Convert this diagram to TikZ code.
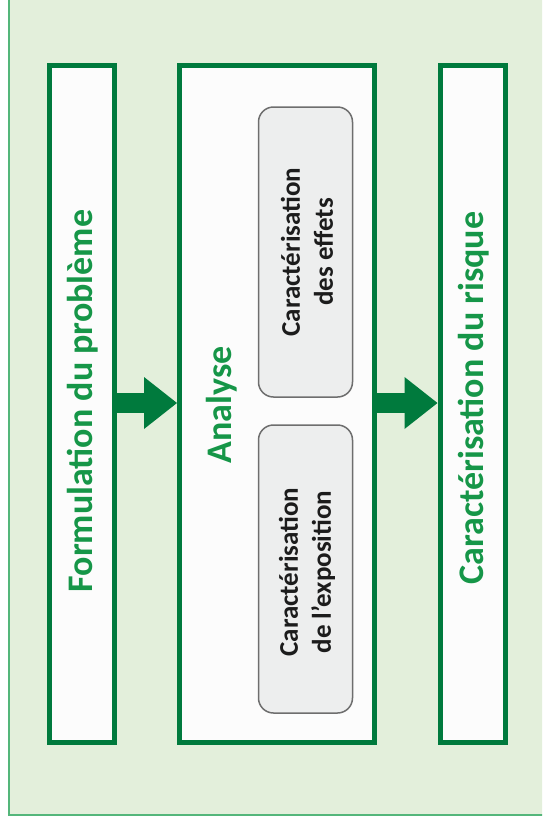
\documentclass[tikz,border=0pt]{standalone}
\usepackage{fontspec}
\setmainfont{Carlito}
\usetikzlibrary{arrows.meta}
\definecolor{panelbg}{RGB}{227,239,219}
\definecolor{panelline}{RGB}{84,182,122}
\definecolor{boxline}{RGB}{0,122,61}
\definecolor{titlegreen}{RGB}{22,150,72}
\definecolor{subfill}{RGB}{237,238,238}
\definecolor{subline}{RGB}{110,110,110}
\definecolor{subtext}{RGB}{28,28,28}
\tikzset{
  stagebox/.style={draw=boxline, line width=5pt, fill=white!99!black, inner sep=0pt,
    minimum width=65pt, minimum height=677pt},
  subbox/.style={draw=subline, line width=1.5pt, fill=subfill, rounded corners=15pt,
    inner sep=0pt, minimum width=94pt},
  stagetitle/.style={rotate=90, text=titlegreen, font=\bfseries\fontsize{36}{42}\selectfont, inner sep=0pt},
  subtitle/.style={rotate=90, text=subtext, align=center, font=\bfseries\fontsize{27}{33}\selectfont, inner sep=0pt},
  flow/.style={draw=boxline, line width=20pt,
    -{Triangle[length=33pt, width=52pt, line width=0pt]}, shorten <=-1pt}
}
\begin{document}
\begin{tikzpicture}[x=1pt, y=-1pt]
  \useasboundingbox (0,0) rectangle (542,831);
  % background panel, open at the top and right
  \begin{scope}
    \clip (0,0) rectangle (542,831);
    \fill[panelbg] (9,-10) rectangle (560,815);
    \draw[panelline, line width=1.6pt] (9,-10) -- (9,815) -- (560,815);
  \end{scope}

  % the three stages
  \node[stagebox] (form) at (82,404) {};
  \node[stagebox, minimum width=195pt] (ana) at (277,404) {};
  \node[stagebox] (risk) at (472.5,404) {};

  % sub-steps of the analysis
  \node[subbox, minimum height=290pt] (eff) at (305.5,252) {};
  \node[subbox, minimum height=288pt] (expo) at (305.5,569) {};

  % labels
  \node[stagetitle] (formtxt) at (83,401) {Formulation du problème};
  \node[stagetitle] (anatxt) at (222,405) {Analyse};
  \node[stagetitle] (risktxt) at (474,398) {Caractérisation du risque};
  \node[subtitle] (efftxt) at (307,252) {Caractérisation\\des effets};
  \node[subtitle] (expotxt) at (307,572) {Caractérisation\\de l’exposition};

  % flow between the stages
  \draw[flow] (form.east |- 0,403) -- (ana.west |- 0,403);
  \draw[flow] (ana.east |- 0,403) -- (risk.west |- 0,403);
\end{tikzpicture}
\end{document}
